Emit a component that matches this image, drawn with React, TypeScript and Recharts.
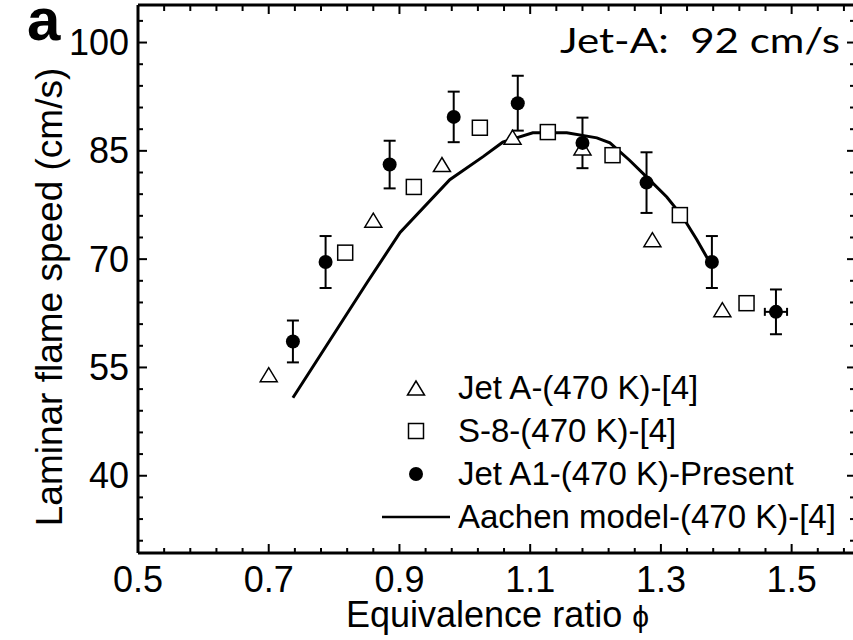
import { ComposedChart, XAxis, YAxis, Scatter, Line, ErrorBar, Legend, Label } from 'recharts'

const FONT = '"Liberation Sans", Arial, Helvetica, sans-serif'

const X_DOMAIN = [0.5, 1.6]
const Y_DOMAIN = [29.3, 105.2]
const X_MAJOR = [0.5, 0.7, 0.9, 1.1, 1.3, 1.5]
const X_TICKS = [
  0.5, 0.54, 0.58, 0.62, 0.66, 0.7, 0.74, 0.78, 0.82, 0.86, 0.9, 0.94, 0.98, 1.02,
  1.06, 1.1, 1.14, 1.18, 1.22, 1.26, 1.3, 1.34, 1.38, 1.42, 1.46, 1.5, 1.54, 1.58,
]
const Y_MAJOR = [40, 55, 70, 85, 100]
const Y_TICKS = [
  31, 34, 37, 40, 43, 46, 49, 52, 55, 58, 61, 64, 67, 70, 73, 76, 79, 82, 85, 88, 91, 94, 97, 100, 103,
]

// Jet A (470 K) [4]
const JET_A = [
  { x: 0.7, y: 54.0 },
  { x: 0.86, y: 75.4 },
  { x: 0.965, y: 83.1 },
  { x: 1.073, y: 86.9 },
  { x: 1.18, y: 85.4 },
  { x: 1.287, y: 72.7 },
  { x: 1.394, y: 63.0 },
]

// S-8 (470 K) [4]
const S8 = [
  { x: 0.817, y: 70.9 },
  { x: 0.922, y: 80.0 },
  { x: 1.023, y: 88.2 },
  { x: 1.127, y: 87.6 },
  { x: 1.226, y: 84.4 },
  { x: 1.329, y: 76.1 },
  { x: 1.431, y: 63.9 },
]

// Jet A1 (470 K) present, with error bars
const JET_A1 = [
  { x: 0.737, y: 58.6, ey: 2.9, ex: 0 },
  { x: 0.787, y: 69.6, ey: 3.6, ex: 0 },
  { x: 0.885, y: 83.1, ey: 3.3, ex: 0 },
  { x: 0.983, y: 89.7, ey: 3.5, ex: 0 },
  { x: 1.081, y: 91.6, ey: 3.8, ex: 0 },
  { x: 1.18, y: 86.1, ey: 3.5, ex: 0 },
  { x: 1.278, y: 80.6, ey: 4.2, ex: 0 },
  { x: 1.378, y: 69.6, ey: 3.6, ex: 0 },
  { x: 1.476, y: 62.7, ey: 3.1, ex: 0.017 },
]

// Aachen model (470 K) [4]
const AACHEN = [
  { x: 0.737, y: 50.8 },
  { x: 0.786, y: 57.7 },
  { x: 0.85, y: 66.7 },
  { x: 0.901, y: 73.7 },
  { x: 0.977, y: 81.0 },
  { x: 1.028, y: 84.2 },
  { x: 1.058, y: 86.2 },
  { x: 1.104, y: 87.5 },
  { x: 1.156, y: 87.5 },
  { x: 1.202, y: 86.8 },
  { x: 1.222, y: 86.1 },
  { x: 1.252, y: 83.7 },
  { x: 1.278, y: 81.4 },
  { x: 1.309, y: 78.6 },
  { x: 1.333, y: 75.9 },
  { x: 1.355, y: 72.7 },
  { x: 1.375, y: 69.5 },
]

const isMajor = (list: number[], v: number) => list.some((m) => Math.abs(m - v) < 1e-6)

function BottomTick({ x, y, payload }: any) {
  const major = isMajor(X_MAJOR, payload.value)
  return (
    <g>
      <line x1={x} y1={y} x2={x} y2={y - (major ? 9 : 5)} stroke="#000" strokeWidth={2} />
      {major ? (
        <text x={x} y={y + 39} textAnchor="middle" fontSize={36} fontFamily={FONT} fill="#000">
          {payload.value.toFixed(1)}
        </text>
      ) : null}
    </g>
  )
}

function TopTick({ x, y, payload }: any) {
  const major = isMajor(X_MAJOR, payload.value)
  return <line x1={x} y1={y} x2={x} y2={y + (major ? 9 : 6)} stroke="#000" strokeWidth={2} />
}

function LeftTick({ x, y, payload }: any) {
  const major = isMajor(Y_MAJOR, payload.value)
  return (
    <g>
      <line x1={x} y1={y} x2={x + (major ? 9 : 5)} y2={y} stroke="#000" strokeWidth={2} />
      {major ? (
        <text x={x - 9} y={y + 12.5} textAnchor="end" fontSize={36} fontFamily={FONT} fill="#000">
          {payload.value}
        </text>
      ) : null}
    </g>
  )
}

function RightTick({ x, y, payload }: any) {
  const major = isMajor(Y_MAJOR, payload.value)
  return <line x1={x} y1={y} x2={x - (major ? 10 : 7)} y2={y} stroke="#000" strokeWidth={2} />
}

function Triangle({ cx, cy }: any) {
  return (
    <polygon
      points={`${cx},${cy - 7} ${cx - 8.5},${cy + 7} ${cx + 8.5},${cy + 7}`}
      fill="#fff"
      stroke="#000"
      strokeWidth={1.5}
    />
  )
}

function Square({ cx, cy }: any) {
  return <rect x={cx - 7.5} y={cy - 7.5} width={15} height={15} fill="#fff" stroke="#000" strokeWidth={1.5} />
}

function Dot({ cx, cy }: any) {
  return <circle cx={cx} cy={cy} r={7} fill="#000" />
}

function YTitle({ viewBox }: any) {
  const cx = viewBox.x + viewBox.width - 76
  const cy = viewBox.y + viewBox.height / 2 + 18
  return (
    <text x={cx} y={cy} transform={`rotate(-90, ${cx}, ${cy})`} textAnchor="middle" fontSize={37} fontFamily={FONT} fill="#000">
      Laminar flame speed (cm/s)
    </text>
  )
}

function XTitle({ viewBox }: any) {
  const cx = viewBox.x + viewBox.width / 2
  return (
    <text x={cx} y={viewBox.y + 74} textAnchor="middle" fontSize={36} fontFamily={FONT} fill="#000">
      Equivalence ratio <tspan fontSize={30}>ϕ</tspan>
    </text>
  )
}

const LEGEND_ROWS = [
  { name: 'Jet A-(470 K)-[4]', kind: 'tri' },
  { name: 'S-8-(470 K)-[4]', kind: 'sq' },
  { name: 'Jet A1-(470 K)-Present', kind: 'dot' },
  { name: 'Aachen model-(470 K)-[4]', kind: 'line' },
]

function LegendBox() {
  return (
    <svg width={480} height={175} style={{ display: 'block' }}>
      {LEGEND_ROWS.map((row, i) => {
        const cy = 22 + i * 43
        const cx = 46
        return (
          <g key={row.name}>
            {row.kind === 'tri' ? <Triangle cx={cx} cy={cy} /> : null}
            {row.kind === 'sq' ? <Square cx={cx} cy={cy} /> : null}
            {row.kind === 'dot' ? <Dot cx={cx} cy={cy} /> : null}
            {row.kind === 'line' ? <line x1={12} x2={80} y1={cy} y2={cy} stroke="#000" strokeWidth={2.5} /> : null}
            <text x={88} y={cy + 11} fontSize={33} fontFamily={FONT} fill="#000">
              {row.name}
            </text>
          </g>
        )
      })}
    </svg>
  )
}

const axisLine = { stroke: '#000', strokeWidth: 3 }

export default function App() {
  return (
    <div style={{ position: 'absolute', left: 0, top: 0, width: 853, height: 640, overflow: 'hidden', background: '#fff' }}>
      <ComposedChart width={880} height={640} margin={{ top: 4, right: 22, bottom: 86, left: 137 }}>
        <XAxis
          dataKey="x"
          type="number"
          domain={X_DOMAIN}
          allowDataOverflow
          ticks={X_TICKS}
          interval={0}
          height={1}
          tickSize={0}
          tickMargin={0}
          tickLine={false}
          axisLine={axisLine}
          tick={(p: any) => <BottomTick {...p} />}
        >
          <Label content={(p: any) => <XTitle {...p} />} />
        </XAxis>
        <XAxis
          xAxisId="top"
          orientation="top"
          dataKey="x"
          type="number"
          domain={X_DOMAIN}
          allowDataOverflow
          ticks={X_TICKS}
          interval={0}
          height={1}
          tickSize={0}
          tickMargin={0}
          tickLine={false}
          axisLine={axisLine}
          tick={(p: any) => <TopTick {...p} />}
        />
        <YAxis
          type="number"
          domain={Y_DOMAIN}
          allowDataOverflow
          ticks={Y_TICKS}
          interval={0}
          width={1}
          tickSize={0}
          tickMargin={0}
          tickLine={false}
          axisLine={axisLine}
          tick={(p: any) => <LeftTick {...p} />}
        >
          <Label content={(p: any) => <YTitle {...p} />} />
        </YAxis>
        <YAxis
          yAxisId="right"
          orientation="right"
          type="number"
          domain={Y_DOMAIN}
          allowDataOverflow
          ticks={Y_TICKS}
          interval={0}
          width={1}
          tickSize={0}
          tickMargin={0}
          tickLine={false}
          axisLine={axisLine}
          tick={(p: any) => <RightTick {...p} />}
        />
        <Line
          data={AACHEN}
          dataKey="y"
          name="Aachen model-(470 K)-[4]"
          type="linear"
          stroke="#000"
          strokeWidth={3}
          dot={false}
          activeDot={false}
          isAnimationActive={false}
        />
        <Scatter data={JET_A} dataKey="y" name="Jet A-(470 K)-[4]" shape={(p: any) => <Triangle {...p} />} isAnimationActive={false} />
        <Scatter data={S8} dataKey="y" name="S-8-(470 K)-[4]" shape={(p: any) => <Square {...p} />} isAnimationActive={false} />
        <Scatter data={JET_A1} dataKey="y" name="Jet A1-(470 K)-Present" shape={(p: any) => <Dot {...p} />} isAnimationActive={false}>
          <ErrorBar dataKey="ey" direction="y" width={6} stroke="#000" strokeWidth={2} isAnimationActive={false} />
          <ErrorBar dataKey="ex" direction="x" width={4} stroke="#000" strokeWidth={2} isAnimationActive={false} />
        </Scatter>
        <Legend
          layout="vertical"
          align="center"
          verticalAlign="middle"
          content={() => <LegendBox />}
          wrapperStyle={{ left: 370, top: 366, width: 480, height: 175 }}
        />
      </ComposedChart>
      <svg width={853} height={640} style={{ position: 'absolute', left: 0, top: 0, pointerEvents: 'none' }}>
        <text x={27} y={40} fontSize={60} fontWeight="bold" fontFamily={FONT} fill="#000">
          a
        </text>
        <text
          x={560}
          y={53}
          fontSize={35}
          textLength={280}
          lengthAdjust="spacingAndGlyphs"
          fontFamily="Lato, 'Open Sans', sans-serif"
          fill="#000"
          style={{ whiteSpace: 'pre' }}
        >
          {'Jet-A:  92 cm/s'}
        </text>
      </svg>
    </div>
  )
}
